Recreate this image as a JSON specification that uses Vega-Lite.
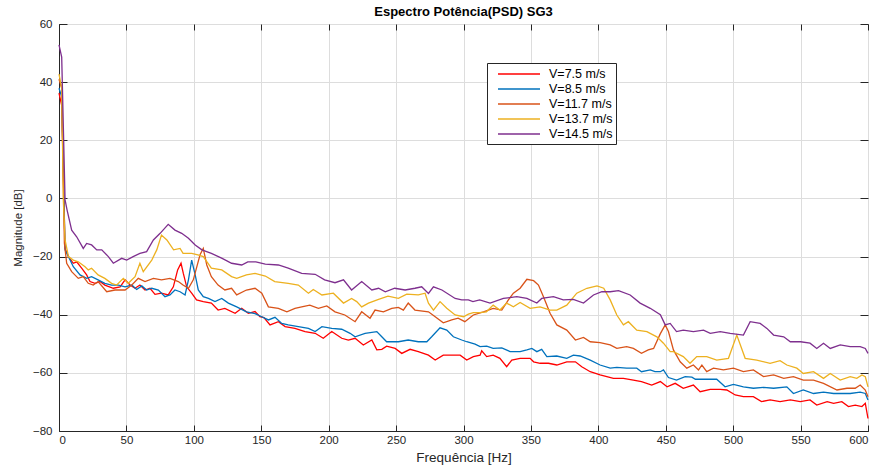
{
  "$schema": "https://vega.github.io/schema/vega-lite/v6.json",
  "width": 809,
  "height": 407,
  "autosize": {"type": "none"},
  "padding": {"left": 59, "top": 24, "right": 10, "bottom": 37},
  "background": "white",
  "title": {"text": "Espectro Potência(PSD) SG3", "font": "Liberation Sans", "fontSize": 13, "fontWeight": "bold", "color": "#000000", "offset": -1, "anchor": "middle"},
  "config": {
    "view": {"stroke": "#262626", "strokeWidth": 1},
    "axis": {"labelFont": "Liberation Sans", "labelFontSize": 11.5, "labelColor": "#262626", "titleFont": "Liberation Sans", "titleColor": "#262626", "titleFontWeight": "normal", "gridColor": "#dddddd", "gridWidth": 1, "domainColor": "#262626", "tickColor": "#262626", "labelOverlap": false}
  },
  "datasets": {
    "r": [{"f":0,"m":36.2},{"f":2,"m":32},{"f":4.5,"m":-17.2},{"f":7,"m":-20},{"f":10.6,"m":-22.3},{"f":13.1,"m":-21.8},{"f":16.8,"m":-24},{"f":20.5,"m":-26.3},{"f":23,"m":-28.6},{"f":26.7,"m":-29.2},{"f":30.4,"m":-28.6},{"f":34,"m":-29.8},{"f":40.3,"m":-30.9},{"f":45.3,"m":-30.4},{"f":49,"m":-28},{"f":52.7,"m":-29.8},{"f":56.4,"m":-30.9},{"f":60,"m":-29.8},{"f":63.8,"m":-31.5},{"f":67.5,"m":-30.9},{"f":71.2,"m":-33},{"f":76,"m":-32.6},{"f":81,"m":-33.2},{"f":84.8,"m":-30.4},{"f":88,"m":-24.6},{"f":90.5,"m":-22.3},{"f":92.2,"m":-25.8},{"f":94.7,"m":-30.4},{"f":98.4,"m":-32.6},{"f":102,"m":-34.9},{"f":107,"m":-35.5},{"f":113,"m":-36},{"f":118,"m":-38.4},{"f":123,"m":-37.8},{"f":130.6,"m":-39.5},{"f":135.5,"m":-37.8},{"f":140.4,"m":-39.5},{"f":145.4,"m":-38.9},{"f":149,"m":-40.7},{"f":152,"m":-41},{"f":156.5,"m":-43.5},{"f":162.7,"m":-42.4},{"f":167.7,"m":-44.1},{"f":175,"m":-44.7},{"f":182.5,"m":-45.8},{"f":190,"m":-46.4},{"f":196,"m":-48.1},{"f":202.3,"m":-45.8},{"f":209.7,"m":-48.1},{"f":214.6,"m":-48.7},{"f":219.6,"m":-48.1},{"f":225.7,"m":-50.4},{"f":232,"m":-48.7},{"f":235.7,"m":-52.1},{"f":239.4,"m":-51.9},{"f":243,"m":-50.8},{"f":249.3,"m":-51.6},{"f":254.2,"m":-53.3},{"f":260.4,"m":-51.9},{"f":266.5,"m":-52.7},{"f":274,"m":-53.9},{"f":279,"m":-55.6},{"f":285,"m":-53.9},{"f":291.3,"m":-53.9},{"f":297.5,"m":-53.9},{"f":302.4,"m":-55.6},{"f":307.3,"m":-54.4},{"f":312.3,"m":-53.9},{"f":313.5,"m":-52.4},{"f":317.2,"m":-54.4},{"f":322,"m":-53.9},{"f":327,"m":-55},{"f":332,"m":-57.9},{"f":335.8,"m":-55.6},{"f":342,"m":-55},{"f":349.4,"m":-55},{"f":352,"m":-56.2},{"f":356.8,"m":-56.7},{"f":363,"m":-56.7},{"f":369.2,"m":-57.3},{"f":376.6,"m":-56.2},{"f":383,"m":-56.2},{"f":387.7,"m":-57.9},{"f":394,"m":-59.6},{"f":401.3,"m":-60.7},{"f":406.3,"m":-61.3},{"f":411.2,"m":-61.9},{"f":418.6,"m":-61.9},{"f":426,"m":-62.5},{"f":432,"m":-63},{"f":439.6,"m":-64.2},{"f":446,"m":-63},{"f":451,"m":-64.8},{"f":457,"m":-63.6},{"f":463,"m":-65.3},{"f":470.5,"m":-64.2},{"f":475.5,"m":-66.5},{"f":483,"m":-65.7},{"f":490.4,"m":-65.7},{"f":495.3,"m":-65.9},{"f":501.5,"m":-67.6},{"f":507.6,"m":-68.2},{"f":515,"m":-68.2},{"f":521,"m":-69.9},{"f":527.4,"m":-69.3},{"f":534.8,"m":-69.9},{"f":542.4,"m":-69.3},{"f":549.8,"m":-69.9},{"f":557,"m":-69.3},{"f":562,"m":-71.1},{"f":569.7,"m":-69.9},{"f":574.5,"m":-70.5},{"f":580.6,"m":-69.9},{"f":585.5,"m":-71.6},{"f":590.5,"m":-71.1},{"f":595.5,"m":-71.6},{"f":598,"m":-70.5},{"f":600,"m":-75.7}],
    "b": [{"f":0,"m":37.9},{"f":2,"m":35},{"f":4.5,"m":-17.7},{"f":7,"m":-20},{"f":10.6,"m":-23.5},{"f":15.6,"m":-26.3},{"f":20.5,"m":-27.5},{"f":24.2,"m":-26.9},{"f":29,"m":-28},{"f":34,"m":-29.2},{"f":39,"m":-29.8},{"f":44,"m":-29.8},{"f":49,"m":-30.4},{"f":54,"m":-29.8},{"f":57.6,"m":-31.3},{"f":61.4,"m":-30.1},{"f":65,"m":-31.5},{"f":68.8,"m":-30.9},{"f":73.7,"m":-31.5},{"f":78.6,"m":-33.8},{"f":82.3,"m":-33.2},{"f":86,"m":-31.5},{"f":89.8,"m":-32.1},{"f":93.5,"m":-33.2},{"f":96,"m":-28},{"f":98.4,"m":-21.2},{"f":101,"m":-26.3},{"f":103.3,"m":-31.5},{"f":107,"m":-33.8},{"f":110.8,"m":-34.4},{"f":115.7,"m":-35.5},{"f":120.7,"m":-34.4},{"f":125.6,"m":-36},{"f":131.8,"m":-37.3},{"f":139,"m":-39},{"f":145.4,"m":-39.6},{"f":150.4,"m":-40.7},{"f":155.3,"m":-41.8},{"f":160.2,"m":-40.9},{"f":165.2,"m":-43},{"f":170,"m":-43.5},{"f":177.5,"m":-44.1},{"f":185,"m":-44.7},{"f":190,"m":-45.8},{"f":195,"m":-44.1},{"f":202.3,"m":-44.7},{"f":209.7,"m":-45},{"f":215.9,"m":-46.4},{"f":219.6,"m":-47.6},{"f":227,"m":-46.4},{"f":235.7,"m":-45.8},{"f":239.4,"m":-47.6},{"f":243,"m":-49.3},{"f":251.7,"m":-49.3},{"f":259,"m":-48.7},{"f":266.5,"m":-49.3},{"f":272.8,"m":-49.3},{"f":276.4,"m":-47.6},{"f":282.6,"m":-44.5},{"f":287.6,"m":-45.3},{"f":292.5,"m":-47.6},{"f":298.7,"m":-48.7},{"f":302.4,"m":-49.3},{"f":308.6,"m":-50.1},{"f":312.3,"m":-51},{"f":317.2,"m":-50.8},{"f":322,"m":-51.6},{"f":328.4,"m":-51.4},{"f":334.6,"m":-52.7},{"f":342,"m":-52.7},{"f":347,"m":-52.1},{"f":350.7,"m":-51.6},{"f":354.4,"m":-52.7},{"f":358,"m":-51.9},{"f":361.8,"m":-54.4},{"f":369.2,"m":-54.2},{"f":376.6,"m":-55},{"f":381.5,"m":-53.9},{"f":386.5,"m":-54.2},{"f":394,"m":-55.6},{"f":401.3,"m":-57.3},{"f":408.8,"m":-58.4},{"f":413.7,"m":-58.1},{"f":421,"m":-58.4},{"f":428.5,"m":-58.4},{"f":432,"m":-59.6},{"f":438.5,"m":-59},{"f":442,"m":-59.6},{"f":446,"m":-59.6},{"f":448.3,"m":-59},{"f":452,"m":-61.6},{"f":458,"m":-62.5},{"f":464.4,"m":-61.3},{"f":469.4,"m":-61.5},{"f":472,"m":-62.2},{"f":480.4,"m":-62.2},{"f":487.8,"m":-62.2},{"f":494,"m":-64.8},{"f":500.2,"m":-64},{"f":507.6,"m":-64.8},{"f":515,"m":-65.3},{"f":522.5,"m":-65},{"f":530,"m":-65.3},{"f":539.8,"m":-64.8},{"f":544.7,"m":-67.1},{"f":552,"m":-65.9},{"f":559.6,"m":-67.1},{"f":567,"m":-66.6},{"f":574.5,"m":-67.1},{"f":579.4,"m":-67.1},{"f":586.8,"m":-67.1},{"f":594.2,"m":-66.6},{"f":598,"m":-67.1},{"f":600,"m":-69.3}],
    "o": [{"f":0,"m":41},{"f":2,"m":38},{"f":4,"m":-15.4},{"f":5.7,"m":-22.3},{"f":9.4,"m":-25.2},{"f":14.3,"m":-27.5},{"f":18,"m":-26.9},{"f":21.7,"m":-29.2},{"f":25.4,"m":-29.8},{"f":29,"m":-28.6},{"f":35.4,"m":-32.1},{"f":41.5,"m":-31.5},{"f":49,"m":-31.5},{"f":54,"m":-29.8},{"f":58.8,"m":-27.5},{"f":63.8,"m":-28.6},{"f":70,"m":-27.5},{"f":76,"m":-28},{"f":82.3,"m":-27.5},{"f":88.5,"m":-28.6},{"f":92,"m":-29.8},{"f":96,"m":-30.9},{"f":99.6,"m":-28},{"f":104.6,"m":-19.4},{"f":107,"m":-17.2},{"f":109.6,"m":-22.9},{"f":113,"m":-26.9},{"f":118,"m":-29.8},{"f":123,"m":-31.5},{"f":128,"m":-30.9},{"f":131.8,"m":-33.2},{"f":139,"m":-31.5},{"f":145.4,"m":-30.9},{"f":150.4,"m":-32.6},{"f":155.3,"m":-37.3},{"f":162.7,"m":-37.8},{"f":169,"m":-39},{"f":175,"m":-37.8},{"f":180,"m":-37.3},{"f":186,"m":-36.7},{"f":192.4,"m":-37.8},{"f":198.6,"m":-37},{"f":204.7,"m":-39},{"f":212,"m":-40.1},{"f":219.6,"m":-42.4},{"f":224.5,"m":-39},{"f":230.7,"m":-41.2},{"f":234.4,"m":-38.4},{"f":240.6,"m":-39},{"f":246.8,"m":-37.8},{"f":251.7,"m":-37.5},{"f":255.4,"m":-38.4},{"f":259,"m":-36},{"f":264,"m":-38.4},{"f":274,"m":-39},{"f":279,"m":-40.7},{"f":285,"m":-42.8},{"f":291.3,"m":-41.8},{"f":296,"m":-41.2},{"f":301,"m":-42.4},{"f":307.3,"m":-40.1},{"f":314.8,"m":-39},{"f":322,"m":-37.8},{"f":328.4,"m":-38.4},{"f":333.3,"m":-34.9},{"f":337,"m":-32.6},{"f":342,"m":-30.9},{"f":347,"m":-27.8},{"f":352,"m":-28.3},{"f":355.6,"m":-29.8},{"f":359.3,"m":-33.8},{"f":364.2,"m":-39.5},{"f":369.2,"m":-43.5},{"f":376.6,"m":-45.3},{"f":383,"m":-48.7},{"f":389,"m":-47.8},{"f":394,"m":-49.3},{"f":401.3,"m":-49.6},{"f":408.8,"m":-50.4},{"f":413.7,"m":-51.6},{"f":421,"m":-51},{"f":426,"m":-51.6},{"f":432,"m":-53.3},{"f":437,"m":-52.1},{"f":441,"m":-51.6},{"f":446,"m":-46.5},{"f":449.6,"m":-43.5},{"f":452,"m":-45.8},{"f":455.7,"m":-52.1},{"f":460.7,"m":-56.2},{"f":465.6,"m":-58.4},{"f":470.5,"m":-57.3},{"f":474.3,"m":-59},{"f":476.8,"m":-57.3},{"f":480.4,"m":-59.6},{"f":485.4,"m":-58.4},{"f":492.8,"m":-59},{"f":500.2,"m":-58.4},{"f":507.6,"m":-59.6},{"f":515,"m":-59},{"f":522.5,"m":-61.3},{"f":530,"m":-60.7},{"f":537.5,"m":-61.9},{"f":544.7,"m":-61.3},{"f":552,"m":-62.5},{"f":559.6,"m":-62.5},{"f":567,"m":-63.6},{"f":577,"m":-65.9},{"f":584.4,"m":-65.3},{"f":590.5,"m":-65.3},{"f":594.2,"m":-64.2},{"f":598,"m":-65.9},{"f":600,"m":-68.2}],
    "y": [{"f":0,"m":42.8},{"f":2,"m":38},{"f":3.2,"m":-0.5},{"f":4.5,"m":-14.3},{"f":7,"m":-20},{"f":10.6,"m":-21.2},{"f":14.3,"m":-21.8},{"f":19.3,"m":-23.5},{"f":21.7,"m":-24.6},{"f":24.2,"m":-24},{"f":29,"m":-26.3},{"f":34,"m":-27.5},{"f":39,"m":-29.2},{"f":42.8,"m":-29.8},{"f":47.7,"m":-27.5},{"f":51.4,"m":-29.2},{"f":56.4,"m":-26.9},{"f":60,"m":-22.3},{"f":62.5,"m":-25.2},{"f":68.8,"m":-21.2},{"f":72.5,"m":-17.7},{"f":76,"m":-12.6},{"f":80,"m":-14.3},{"f":85,"m":-17.7},{"f":89.8,"m":-17.2},{"f":92,"m":-18.9},{"f":98.4,"m":-18.9},{"f":103,"m":-19.4},{"f":107,"m":-20},{"f":113,"m":-24},{"f":120.7,"m":-24.6},{"f":128,"m":-26.9},{"f":131.8,"m":-27.5},{"f":139,"m":-26.3},{"f":145.4,"m":-25.8},{"f":153,"m":-26.7},{"f":160,"m":-28.6},{"f":170,"m":-29.2},{"f":177.5,"m":-29.8},{"f":185,"m":-32.6},{"f":188.6,"m":-31.3},{"f":195,"m":-33.2},{"f":203.5,"m":-32.6},{"f":211,"m":-36},{"f":217,"m":-34.4},{"f":220.8,"m":-35.5},{"f":224.5,"m":-37.3},{"f":229.5,"m":-36},{"f":237,"m":-34.7},{"f":244,"m":-33.6},{"f":251.7,"m":-34.4},{"f":257.9,"m":-32.9},{"f":266.5,"m":-33.2},{"f":271.5,"m":-32.6},{"f":274,"m":-36},{"f":277.7,"m":-38.4},{"f":282.6,"m":-35.5},{"f":287.6,"m":-37.8},{"f":293.8,"m":-40.1},{"f":300,"m":-40.7},{"f":303.6,"m":-39.8},{"f":307.3,"m":-39.3},{"f":312,"m":-39.3},{"f":317,"m":-39},{"f":322,"m":-36.7},{"f":327,"m":-38.4},{"f":332,"m":-36},{"f":337,"m":-37.3},{"f":342,"m":-35.8},{"f":349.4,"m":-37.8},{"f":356.8,"m":-37.3},{"f":364.2,"m":-38.4},{"f":369.2,"m":-38.4},{"f":376.6,"m":-36.7},{"f":384,"m":-32.6},{"f":391.5,"m":-30.9},{"f":399,"m":-30.1},{"f":404,"m":-30.9},{"f":408.8,"m":-34.9},{"f":413.7,"m":-40.1},{"f":418.6,"m":-43.5},{"f":422.3,"m":-42.4},{"f":428.5,"m":-45.3},{"f":436,"m":-45.8},{"f":443.4,"m":-47.6},{"f":448.3,"m":-49.8},{"f":453.3,"m":-52.7},{"f":455.7,"m":-52.7},{"f":463,"m":-54.4},{"f":468,"m":-56.7},{"f":473,"m":-54.4},{"f":480.4,"m":-54.4},{"f":487.8,"m":-55.6},{"f":496.5,"m":-55},{"f":502.7,"m":-47},{"f":508.9,"m":-55},{"f":517.5,"m":-55.6},{"f":527.4,"m":-56.7},{"f":534.8,"m":-55.8},{"f":539.8,"m":-57.3},{"f":547.2,"m":-58.4},{"f":552,"m":-60.2},{"f":559.6,"m":-59.6},{"f":567,"m":-61.9},{"f":572,"m":-60.2},{"f":579.4,"m":-62.5},{"f":586.8,"m":-61.3},{"f":591.7,"m":-61.9},{"f":595.5,"m":-60.7},{"f":598,"m":-61.3},{"f":600,"m":-64.8}],
    "p": [{"f":0,"m":52.8},{"f":2,"m":48.6},{"f":4.5,"m":-0.5},{"f":6,"m":-4},{"f":9.4,"m":-10.9},{"f":13.1,"m":-13.2},{"f":18,"m":-17.2},{"f":20.5,"m":-15.5},{"f":24.2,"m":-16},{"f":28,"m":-17.7},{"f":31.7,"m":-17.7},{"f":36.6,"m":-20},{"f":40.3,"m":-22.3},{"f":46.5,"m":-20.6},{"f":50.2,"m":-21.2},{"f":55,"m":-20},{"f":60,"m":-18.9},{"f":65,"m":-18.3},{"f":70,"m":-14.3},{"f":75,"m":-12},{"f":81,"m":-8.9},{"f":86,"m":-10.9},{"f":91,"m":-12},{"f":96,"m":-13.7},{"f":101,"m":-16},{"f":106,"m":-17.7},{"f":113,"m":-18.9},{"f":121,"m":-20.6},{"f":128,"m":-22.3},{"f":135.5,"m":-22.9},{"f":140,"m":-21.8},{"f":146,"m":-21.8},{"f":153,"m":-22.6},{"f":162.7,"m":-22.9},{"f":170,"m":-24},{"f":180,"m":-25.8},{"f":190,"m":-26.1},{"f":197,"m":-28},{"f":204.7,"m":-29},{"f":211,"m":-28},{"f":217,"m":-31.5},{"f":224.5,"m":-28.6},{"f":232,"m":-31.5},{"f":237,"m":-30.9},{"f":242,"m":-32.1},{"f":249,"m":-30.9},{"f":256.7,"m":-31.5},{"f":264,"m":-30.9},{"f":269,"m":-30.4},{"f":274,"m":-32.7},{"f":277.7,"m":-30.4},{"f":284,"m":-31.5},{"f":293.8,"m":-34.4},{"f":298.7,"m":-34.9},{"f":303.6,"m":-34.9},{"f":307,"m":-35.5},{"f":312,"m":-34.9},{"f":319.7,"m":-36},{"f":329.6,"m":-34.4},{"f":339.5,"m":-33.8},{"f":347,"m":-34.4},{"f":354.4,"m":-36},{"f":358,"m":-34.4},{"f":366.7,"m":-33.8},{"f":374,"m":-34.9},{"f":381.5,"m":-34.7},{"f":389,"m":-36},{"f":396.4,"m":-33.2},{"f":402.6,"m":-32.1},{"f":408.8,"m":-32.1},{"f":415,"m":-31.7},{"f":423.6,"m":-33.2},{"f":431,"m":-36},{"f":438.5,"m":-37.8},{"f":446,"m":-40},{"f":449.6,"m":-43.5},{"f":453.3,"m":-43},{"f":458,"m":-45.8},{"f":463,"m":-45.3},{"f":470.5,"m":-45.8},{"f":478,"m":-45.3},{"f":483,"m":-46.4},{"f":490.4,"m":-45.8},{"f":497.8,"m":-46.4},{"f":507.6,"m":-47},{"f":512.6,"m":-42.4},{"f":520,"m":-43},{"f":525,"m":-44.7},{"f":530,"m":-47},{"f":537.5,"m":-47.6},{"f":542.4,"m":-49.3},{"f":550,"m":-49.3},{"f":557,"m":-49.8},{"f":562,"m":-51.6},{"f":567,"m":-49.8},{"f":572,"m":-51.6},{"f":579.4,"m":-50.4},{"f":586.8,"m":-51},{"f":594.2,"m":-51},{"f":598,"m":-51.6},{"f":600,"m":-53.3}]
  },
  "resolve": {"axis": {"x": "independent", "y": "independent"}},
  "layer": [
    {
      "encoding": {
        "x": {"field": "f", "type": "quantitative", "scale": {"domain": [0, 600], "nice": false, "zero": false},
          "axis": {"title": "Frequência [Hz]", "titleFontSize": 13.5, "titlePadding": 5, "values": [0,50,100,150,200,250,300,350,400,450,500,550,600], "tickSize": -6, "labelPadding": 9, "grid": true}},
        "y": {"field": "m", "type": "quantitative", "scale": {"domain": [-80, 60], "nice": false, "zero": false},
          "axis": {"title": "Magnitude [dB]", "titleFontSize": 11.5, "titlePadding": 9, "values": [-80,-60,-40,-20,0,20,40,60], "tickSize": -8, "labelPadding": 15, "grid": true}},
        "color": {"datum": "V=7.5 m/s", "type": "nominal",
          "scale": {"domain": ["V=7.5 m/s", "V=8.5 m/s", "V=11.7 m/s", "V=13.7 m/s", "V=14.5 m/s"], "range": ["#FF0000", "#0072BD", "#D95319", "#EDB120", "#7E2F8E"]},
          "legend": {"title": null, "orient": "none", "legendX": 428, "legendY": 39, "fillColor": "white", "strokeColor": "#262626", "padding": 3, "symbolType": "M0,0H6", "symbolSize": 196, "symbolStrokeWidth": 1.5, "labelFont": "Liberation Sans", "labelFontSize": 12.5, "labelColor": "#000000", "rowPadding": -0.8, "labelOffset": 43}}
      },
      "layer": [
        {"data": {"name": "r"}, "mark": {"type": "line", "strokeWidth": 1.3}, "encoding": {"color": {"datum": "V=7.5 m/s"}}},
        {"data": {"name": "b"}, "mark": {"type": "line", "strokeWidth": 1.3}, "encoding": {"color": {"datum": "V=8.5 m/s"}}},
        {"data": {"name": "o"}, "mark": {"type": "line", "strokeWidth": 1.3}, "encoding": {"color": {"datum": "V=11.7 m/s"}}},
        {"data": {"name": "y"}, "mark": {"type": "line", "strokeWidth": 1.3}, "encoding": {"color": {"datum": "V=13.7 m/s"}}},
        {"data": {"name": "p"}, "mark": {"type": "line", "strokeWidth": 1.3}, "encoding": {"color": {"datum": "V=14.5 m/s"}}}
      ]
    },
    {
      "data": {"name": "r"},
      "mark": {"type": "line", "strokeOpacity": 0},
      "encoding": {
        "x": {"field": "f", "type": "quantitative", "scale": {"domain": [0, 600], "nice": false, "zero": false},
          "axis": {"orient": "top", "title": null, "labels": false, "grid": false, "domain": false, "values": [0,50,100,150,200,250,300,350,400,450,500,550,600], "tickSize": -6}},
        "y": {"field": "m", "type": "quantitative", "scale": {"domain": [-80, 60], "nice": false, "zero": false},
          "axis": {"orient": "right", "title": null, "labels": false, "grid": false, "domain": false, "values": [-80,-60,-40,-20,0,20,40,60], "tickSize": -8}}
      }
    }
  ]
}
